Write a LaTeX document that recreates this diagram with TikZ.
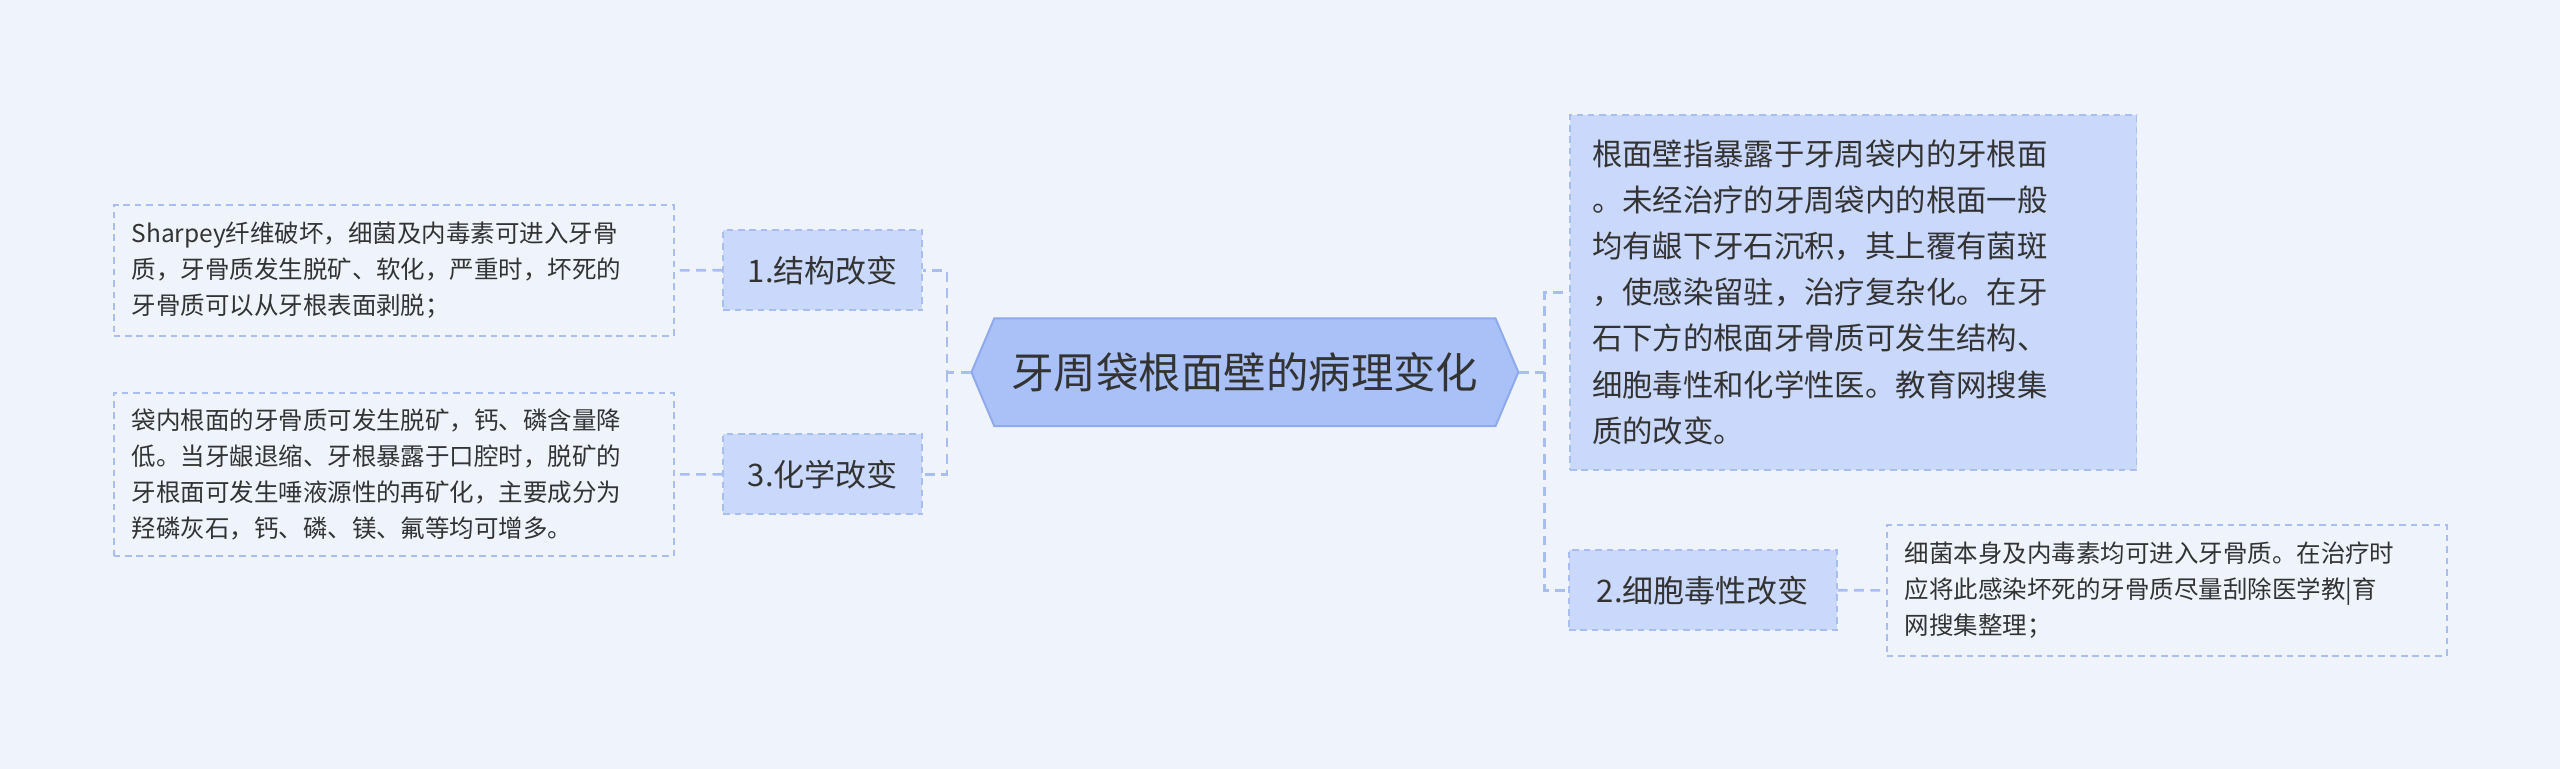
\documentclass[tikz,border=0pt]{standalone}
\usepackage{fontspec}
\setmainfont{Noto Sans CJK SC}
\definecolor{bg}{HTML}{EEF3FC}
\definecolor{mainf}{HTML}{A9C1F7}
\definecolor{maind}{HTML}{8FA9EE}
\definecolor{subf}{HTML}{C9D8FB}
\definecolor{dsh}{HTML}{A9BEF0}
\definecolor{txt}{HTML}{333333}
\tikzset{
 x=0.5pt,y=-0.5pt,
 link/.style={draw=dsh,line width=0.8pt,dashed,dash pattern=on 3pt off 2pt},
 branch/.style={draw=dsh,fill=subf,dashed,dash pattern=on 2pt off 1.5pt,line width=0.6pt,minimum height=24.5pt,inner sep=0pt,font=\fontsize{9.5}{11}\selectfont,text=txt},
 leaf/.style={draw=dsh,dashed,dash pattern=on 2pt off 1.5pt,line width=0.6pt,inner sep=0pt,align=left,text=txt,anchor=north west},
}
\begin{document}
\begin{tikzpicture}
\fill[bg] (0,0) rectangle (1568,471);
\useasboundingbox (0,0) rectangle (1568,471);
\fill[mainf,draw=maind,line width=0.6pt] (595,228) -- (609,195) -- (916,195) -- (930,228) -- (916,261) -- (609,261) -- cycle;
\node[minimum width=167.5pt,minimum height=33pt,inner sep=0pt,font=\fontsize{13}{15}\selectfont,text=txt] (c) at (762.5,228) {牙周袋根面壁的病理变化};
\node[branch,minimum width=61pt] (b1) at (504,165.5) {1.结构改变};
\node[branch,minimum width=61pt] (b3) at (504,290.5) {3.化学改变};
\node[branch,minimum width=82pt] (b2) at (1043,361.5) {2.细胞毒性改变};
\node[leaf,fill=subf,minimum width=173.5pt,minimum height=108.5pt,font=\fontsize{9.3}{14.1}\selectfont] (r1) at (961,70) {\hspace{5pt}\parbox[c][108.5pt][c]{165pt}{根面壁指暴露于牙周袋内的牙根面\\。未经治疗的牙周袋内的根面一般\\均有龈下牙石沉积，其上覆有菌斑\\，使感染留驻，治疗复杂化。在牙\\石下方的根面牙骨质可发生结构、\\细胞毒性和化学性医。教育网搜集\\质的改变。}};
\node[leaf,minimum width=171.5pt,minimum height=40pt,font=\fontsize{7.5}{11}\selectfont] (l1) at (69,125) {\hspace{4.5pt}\parbox[c][40pt][c]{165pt}{Sharpey纤维破坏，细菌及内毒素可进入牙骨\\质，牙骨质发生脱矿、软化，严重时，坏死的\\牙骨质可以从牙根表面剥脱；}};
\node[leaf,minimum width=171.5pt,minimum height=50pt,font=\fontsize{7.5}{11}\selectfont] (l3) at (69,240) {\hspace{4.5pt}\parbox[c][50pt][c]{165pt}{袋内根面的牙骨质可发生脱矿，钙、磷含量降\\低。当牙龈退缩、牙根暴露于口腔时，脱矿的\\牙根面可发生唾液源性的再矿化，主要成分为\\羟磷灰石，钙、磷、镁、氟等均可增多。}};
\node[leaf,minimum width=171.5pt,minimum height=40pt,font=\fontsize{7.5}{11}\selectfont] (r2) at (1155,321) {\hspace{4.5pt}\parbox[c][40pt][c]{165pt}{细菌本身及内毒素均可进入牙骨质。在治疗时\\应将此感染坏死的牙骨质尽量刮除医学教|育\\网搜集整理；}};
\coordinate (jl) at (580,228);
\coordinate (jr) at (946,228);
\draw[link] (c.west) -- (jl) |- (b1.east);
\draw[link] (jl) |- (b3.east);
\draw[link] (c.east) -- (jr) |- (r1.west);
\draw[link] (jr) |- (b2.west);
\draw[link] (b1.west) -- (l1.east);
\draw[link] (b3.west) -- (l3.east);
\draw[link] (b2.east) -- (r2.west);
\end{tikzpicture}
\end{document}
